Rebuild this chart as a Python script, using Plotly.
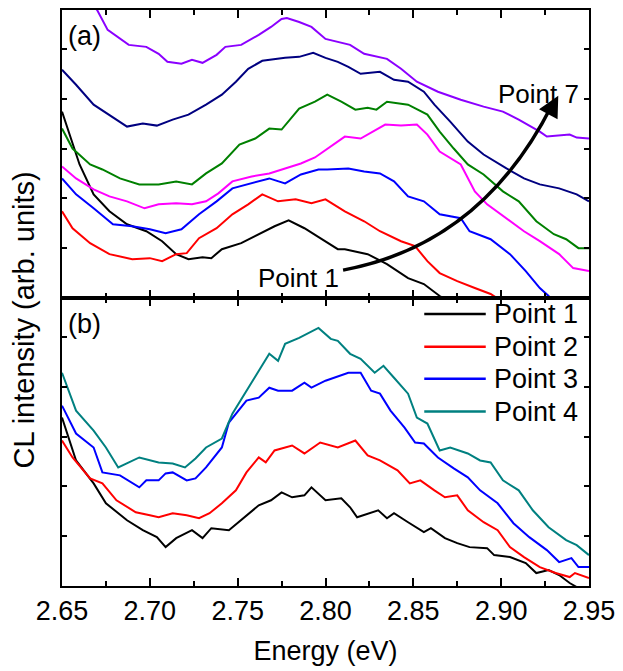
import plotly.graph_objects as go
from plotly.subplots import make_subplots

# ---------------- data: panel (a) ----------------
a_p1_e = [2.650, 2.655, 2.660, 2.668, 2.677, 2.687, 2.698, 2.707, 2.715, 2.722, 2.730, 2.735, 2.741, 2.752, 2.762, 2.771, 2.779, 2.788, 2.797, 2.807, 2.811, 2.824, 2.835, 2.847, 2.856, 2.865, 2.881, 2.950]
a_p1_v = [187, 160, 134, 104, 87, 74, 67, 57, 44, 39, 41, 40, 49, 55, 64, 72, 78, 70, 60, 49, 49, 44, 34, 20, 14, 2, -13, -73]

a_p2_e = [2.650, 2.656, 2.666, 2.677, 2.690, 2.700, 2.707, 2.715, 2.721, 2.728, 2.738, 2.747, 2.756, 2.764, 2.773, 2.783, 2.792, 2.800, 2.811, 2.822, 2.831, 2.843, 2.851, 2.858, 2.865, 2.875, 2.885, 2.894, 2.909, 2.950]
a_p2_v = [87, 70, 55, 44, 39, 40, 37, 44, 45, 60, 70, 84, 94, 104, 97, 99, 95, 99, 87, 77, 67, 57, 52, 37, 25, 17, 10, 4, -13, -53]

a_p3_e = [2.650, 2.658, 2.668, 2.679, 2.690, 2.700, 2.709, 2.718, 2.728, 2.738, 2.747, 2.758, 2.768, 2.777, 2.786, 2.796, 2.801, 2.813, 2.822, 2.831, 2.839, 2.847, 2.856, 2.865, 2.877, 2.882, 2.894, 2.905, 2.914, 2.922, 2.927, 2.937, 2.950]
a_p3_v = [120, 104, 90, 74, 72, 69, 65, 69, 84, 97, 110, 115, 120, 115, 124, 129, 129, 130, 127, 125, 117, 102, 97, 84, 80, 67, 59, 44, 27, 10, 2, -23, -48]

a_p4_e = [2.650, 2.658, 2.668, 2.677, 2.687, 2.697, 2.705, 2.715, 2.724, 2.732, 2.739, 2.747, 2.758, 2.768, 2.777, 2.786, 2.794, 2.801, 2.811, 2.820, 2.834, 2.843, 2.852, 2.858, 2.865, 2.877, 2.885, 2.892, 2.903, 2.913, 2.922, 2.933, 2.941, 2.950]
a_p4_v = [132, 120, 109, 102, 97, 90, 94, 95, 94, 97, 105, 117, 122, 125, 130, 135, 141, 150, 162, 160, 174, 173, 174, 164, 147, 134, 107, 94, 80, 67, 57, 44, 30, 27]

a_p5_e = [2.650, 2.656, 2.666, 2.673, 2.683, 2.694, 2.705, 2.715, 2.724, 2.732, 2.741, 2.751, 2.760, 2.768, 2.775, 2.785, 2.794, 2.801, 2.809, 2.817, 2.824, 2.829, 2.835, 2.847, 2.858, 2.865, 2.873, 2.881, 2.890, 2.901, 2.910, 2.920, 2.930, 2.937, 2.944, 2.950]
a_p5_v = [170, 150, 134, 129, 120, 114, 114, 117, 114, 125, 135, 154, 160, 170, 169, 190, 197, 204, 197, 189, 191, 189, 197, 194, 184, 167, 150, 134, 124, 107, 97, 77, 64, 59, 50, 50]

a_p6_e = [2.650, 2.658, 2.668, 2.677, 2.687, 2.696, 2.704, 2.713, 2.722, 2.732, 2.741, 2.749, 2.756, 2.764, 2.777, 2.785, 2.793, 2.800, 2.807, 2.813, 2.820, 2.831, 2.839, 2.847, 2.856, 2.862, 2.871, 2.881, 2.890, 2.903, 2.913, 2.922, 2.933, 2.943, 2.950]
a_p6_v = [229, 214, 194, 184, 172, 175, 173, 179, 184, 194, 204, 217, 230, 238, 241, 242, 246, 241, 237, 232, 225, 227, 219, 217, 207, 194, 177, 157, 144, 130, 120, 114, 110, 104, 97]

a_p7_e = [2.650, 2.660, 2.670, 2.676, 2.688, 2.698, 2.705, 2.710, 2.718, 2.724, 2.730, 2.738, 2.743, 2.752, 2.762, 2.769, 2.775, 2.778, 2.785, 2.792, 2.800, 2.807, 2.814, 2.822, 2.835, 2.843, 2.852, 2.864, 2.877, 2.890, 2.901, 2.910, 2.922, 2.926, 2.933, 2.939, 2.943, 2.950]
a_p7_v = [342, 307, 289, 269, 254, 252, 245, 237, 235, 239, 236, 244, 252, 254, 264, 272, 280, 281, 277, 272, 260, 257, 254, 245, 240, 230, 217, 207, 199, 192, 187, 179, 167, 162, 163, 164, 161, 160]

# ---------------- data: panel (b) ----------------
b_p1_e = [2.650, 2.658, 2.668, 2.675, 2.687, 2.696, 2.704, 2.709, 2.715, 2.724, 2.730, 2.735, 2.745, 2.752, 2.762, 2.769, 2.775, 2.781, 2.788, 2.792, 2.800, 2.809, 2.814, 2.818, 2.830, 2.835, 2.839, 2.847, 2.856, 2.860, 2.868, 2.875, 2.882, 2.892, 2.896, 2.905, 2.914, 2.920, 2.927, 2.933, 2.939, 2.942, 2.950]
b_p1_v = [169, 126, 103, 83, 66, 56, 49, 39, 48, 56, 48, 58, 56, 66, 81, 86, 94, 89, 91, 99, 86, 88, 79, 69, 76, 68, 73, 64, 54, 58, 48, 43, 39, 38, 31, 29, 23, 13, 16, 11, 3, 0, -9]

b_p2_e = [2.650, 2.656, 2.666, 2.673, 2.681, 2.692, 2.700, 2.705, 2.713, 2.721, 2.728, 2.734, 2.741, 2.749, 2.755, 2.762, 2.766, 2.771, 2.781, 2.788, 2.797, 2.807, 2.817, 2.824, 2.831, 2.841, 2.848, 2.854, 2.862, 2.868, 2.875, 2.881, 2.890, 2.898, 2.905, 2.913, 2.922, 2.931, 2.939, 2.942, 2.950]
b_p2_v = [146, 129, 108, 103, 86, 74, 71, 69, 73, 71, 68, 73, 83, 96, 114, 129, 124, 136, 141, 133, 144, 139, 146, 131, 126, 116, 103, 106, 96, 89, 91, 76, 64, 56, 39, 29, 19, 13, 9, 13, 8]

b_p3_e = [2.650, 2.658, 2.668, 2.673, 2.683, 2.694, 2.698, 2.705, 2.709, 2.713, 2.721, 2.726, 2.732, 2.741, 2.745, 2.755, 2.762, 2.768, 2.773, 2.781, 2.788, 2.792, 2.800, 2.809, 2.813, 2.820, 2.826, 2.831, 2.837, 2.845, 2.851, 2.856, 2.864, 2.873, 2.881, 2.888, 2.898, 2.907, 2.916, 2.926, 2.933, 2.940, 2.944, 2.950]
b_p3_v = [181, 153, 139, 114, 111, 99, 106, 106, 113, 114, 106, 108, 119, 139, 164, 186, 189, 199, 196, 196, 204, 199, 206, 211, 214, 214, 196, 193, 176, 159, 144, 143, 129, 118, 109, 96, 83, 63, 49, 36, 24, 28, 19, 19]

b_p4_e = [2.650, 2.658, 2.668, 2.675, 2.682, 2.687, 2.694, 2.705, 2.713, 2.720, 2.726, 2.732, 2.741, 2.747, 2.755, 2.762, 2.768, 2.773, 2.777, 2.785, 2.796, 2.803, 2.807, 2.814, 2.820, 2.828, 2.833, 2.839, 2.847, 2.852, 2.858, 2.865, 2.871, 2.881, 2.888, 2.894, 2.901, 2.910, 2.918, 2.927, 2.937, 2.943, 2.950]
b_p4_v = [214, 176, 156, 139, 119, 123, 129, 124, 123, 119, 128, 139, 148, 173, 196, 216, 233, 226, 243, 249, 259, 248, 246, 233, 228, 214, 221, 209, 193, 169, 163, 136, 139, 133, 126, 124, 106, 96, 76, 59, 46, 41, 31]

x_ticks = [2.65, 2.70, 2.75, 2.80, 2.85, 2.90, 2.95]
x_ticklabels = ["2.65", "2.70", "2.75", "2.80", "2.85", "2.90", "2.95"]

top_series = [
    (a_p1_e, a_p1_v, "#000000"),
    (a_p2_e, a_p2_v, "#FF0000"),
    (a_p3_e, a_p3_v, "#0000FF"),
    (a_p4_e, a_p4_v, "#FF00FF"),
    (a_p5_e, a_p5_v, "#008000"),
    (a_p6_e, a_p6_v, "#000080"),
    (a_p7_e, a_p7_v, "#8B00FF"),
]
bottom_series = [
    ("Point 1", b_p1_e, b_p1_v, "#000000"),
    ("Point 2", b_p2_e, b_p2_v, "#FF0000"),
    ("Point 3", b_p3_e, b_p3_v, "#0000FF"),
    ("Point 4", b_p4_e, b_p4_v, "#008080"),
]

FONT = "Liberation Sans, Arial, sans-serif"

fig = make_subplots(rows=2, cols=1, shared_xaxes=True, vertical_spacing=0)

for e, v, c in top_series:
    fig.add_trace(go.Scatter(x=e, y=v, mode="lines", line=dict(color=c, width=2),
                             showlegend=False, hoverinfo="skip"), row=1, col=1)
for name, e, v, c in bottom_series:
    fig.add_trace(go.Scatter(x=e, y=v, mode="lines", name=name, line=dict(color=c, width=2),
                             showlegend=False, hoverinfo="skip"), row=2, col=1)

axis_common = dict(showline=True, linecolor="black", linewidth=2, mirror="ticks",
                   ticks="inside", tickcolor="black", tickwidth=1.5, showgrid=False, zeroline=False)

fig.update_xaxes(range=[2.65, 2.95], tickvals=x_ticks, ticktext=x_ticklabels, ticklen=8,
                 minor=dict(ticks="inside", ticklen=5, tickcolor="black", tickwidth=1.5, dtick=0.025, tick0=2.65),
                 **axis_common)
fig.update_xaxes(showticklabels=False, row=1, col=1)
fig.update_xaxes(tickfont=dict(family=FONT, size=27, color="black"),
                 title=dict(text="Energy (eV)", font=dict(family=FONT, size=27, color="black"), standoff=16),
                 row=2, col=1)
fig.update_yaxes(range=[0, 289], showticklabels=False, ticklen=5, dtick=50, tick0=0,
                 **axis_common)

# curved arrow from "Point 1" to "Point 7" in panel (a)
fig.add_shape(type="path", xref="x", yref="y",
              path="M 2.810,28 Q 2.889,54 2.929,194",
              line=dict(color="black", width=3.5))
fig.add_annotation(x=2.9325, y=203, ax=2.927, ay=185, xref="x", yref="y", axref="x", ayref="y",
                   text="", showarrow=True, arrowhead=2, arrowsize=1.2, arrowwidth=3.5,
                   arrowcolor="black", standoff=0)

ann_font = dict(family=FONT, size=26, color="black")
fig.add_annotation(x=2.7845, y=20, xref="x", yref="y", text="Point 1", showarrow=False, font=ann_font)
fig.add_annotation(x=2.921, y=205, xref="x", yref="y", text="Point 7", showarrow=False, font=ann_font)
fig.add_annotation(x=0.008, y=0.985, xref="paper", yref="paper", text="(a)", showarrow=False,
                   xanchor="left", yanchor="top", font=dict(family=FONT, size=27, color="black"))
fig.add_annotation(x=0.008, y=0.485, xref="paper", yref="paper", text="(b)", showarrow=False,
                   xanchor="left", yanchor="top", font=dict(family=FONT, size=27, color="black"))
fig.add_annotation(x=-0.073, y=0.462, xref="paper", yref="paper", text="CL intensity (arb. units)",
                   showarrow=False, textangle=-90, xanchor="center", yanchor="middle",
                   font=dict(family=FONT, size=29, color="black"))

# legend for panel (b), drawn as line samples + labels (paper coordinates)
legend_rows_y = [0.4723, 0.4152, 0.3599, 0.3028]
for (name, e, v, c), ly in zip(bottom_series, legend_rows_y):
    fig.add_shape(type="line", xref="paper", yref="paper", x0=0.6874, x1=0.8041, y0=ly, y1=ly,
                  line=dict(color=c, width=2.5))
    fig.add_annotation(x=0.816, y=ly, xref="paper", yref="paper", text=name, showarrow=False,
                       xanchor="left", yanchor="middle", font=dict(family=FONT, size=27, color="black"))

fig.update_layout(
    width=623, height=671,
    margin=dict(l=62, r=30, t=8, b=85),
    paper_bgcolor="white", plot_bgcolor="white",
    font=dict(family=FONT, color="black"),
    showlegend=False,
)

fig.write_html("out.html")
